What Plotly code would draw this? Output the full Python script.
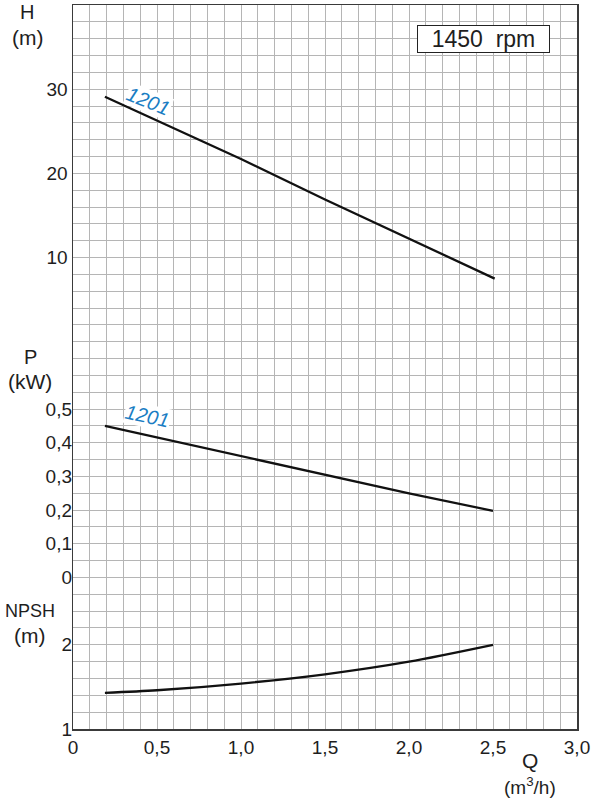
import plotly.graph_objects as go

# ---- data ----
q_h = [0.19, 0.5, 1.0, 1.5, 2.0, 2.51]
h_vals = [29.1, 26.3, 21.7, 16.9, 12.2, 7.5]

q_p = [0.19, 0.5, 1.0, 1.5, 2.0, 2.5]
p_vals = [0.45, 0.416, 0.361, 0.305, 0.250, 0.198]

q_n = [0.19, 0.5, 1.0, 1.5, 2.0, 2.5]
npsh_vals = [1.43, 1.46, 1.54, 1.65, 1.80, 2.0]

x_ticks = [0, 0.5, 1.0, 1.5, 2.0, 2.5, 3.0]
x_ticktext = ["0", "0,5", "1,0", "1,5", "2,0", "2,5", "3,0"]
h_ticks = [10, 20, 30]
p_ticks = [0, 0.1, 0.2, 0.3, 0.4, 0.5]
p_ticktext = ["0", "0,1", "0,2", "0,3", "0,4", "0,5"]
n_ticks = [1, 2]

curve_label = "1201"
speed_label = "1450  rpm"

# ---- layout geometry ----
W, H = 591, 800
ML, MR, MT, MB = 73, 14, 5, 71
PW, PH = W - ML - MR, H - MT - MB

FONT = "Liberation Sans, Arial, sans-serif"
GRID = "#b5b5b5"
FRAME = "#3a3a3a"
BLUE = "#1a7dc3"
TXT = "#1e1e1e"

def px2paper(px, py):
    return (px - ML) / PW, (H - MB - py) / PH

fig = go.Figure()
straight = dict(color="#111111", width=2.3)
curved = dict(color="#111111", width=2.3, shape="spline", smoothing=0.8)
fig.add_trace(go.Scatter(x=q_h, y=h_vals, mode="lines", line=straight, yaxis="y", showlegend=False, hoverinfo="skip"))
fig.add_trace(go.Scatter(x=q_p, y=p_vals, mode="lines", line=straight, yaxis="y2", showlegend=False, hoverinfo="skip"))
fig.add_trace(go.Scatter(x=q_n, y=npsh_vals, mode="lines", line=curved, yaxis="y3", showlegend=False, hoverinfo="skip"))

tickfont = dict(family=FONT, size=19, color=TXT)

fig.update_layout(
    width=W, height=H,
    margin=dict(l=ML, r=MR, t=MT, b=MB, pad=0, autoexpand=False),
    paper_bgcolor="white", plot_bgcolor="white",
    xaxis=dict(
        range=[0, 3.0], tickmode="array", tickvals=x_ticks, ticktext=x_ticktext,
        showgrid=True, gridcolor=GRID, gridwidth=1,
        minor=dict(tickmode="linear", tick0=0, dtick=0.1, showgrid=True, gridcolor=GRID, gridwidth=1),
        showline=True, linecolor=FRAME, linewidth=1.5, mirror=True,
        ticks="", zeroline=False, tickfont=dict(family=FONT, size=19, color=TXT),
        ticklabelstandoff=1, automargin=False,
    ),
    yaxis=dict(
        range=[-46, 40], tickmode="array", tickvals=h_ticks,
        showgrid=True, gridcolor=GRID, gridwidth=1,
        minor=dict(tickmode="linear", tick0=0, dtick=2, showgrid=True, gridcolor=GRID, gridwidth=1),
        showline=True, linecolor=FRAME, linewidth=1.5, mirror=True,
        ticks="", zeroline=False, tickfont=tickfont, ticklabelstandoff=0, automargin=False,
    ),
    yaxis2=dict(
        range=[-0.45, 1.7], overlaying="y", side="left", anchor="x",
        tickmode="array", tickvals=p_ticks, ticktext=p_ticktext,
        showgrid=False, zeroline=False, ticks="", tickfont=tickfont, ticklabelstandoff=0,
        automargin=False,
    ),
    yaxis3=dict(
        range=[1, 9.6], overlaying="y", side="left", anchor="x",
        tickmode="array", tickvals=n_ticks,
        showgrid=False, zeroline=False, ticks="", tickfont=tickfont, ticklabelstandoff=0,
        automargin=False,
    ),
)

ann = []
def text_at(px, py, txt, size=18, color=TXT, **kw):
    x, y = px2paper(px, py)
    d = dict(x=x, y=y, xref="paper", yref="paper", text=txt, showarrow=False,
             xanchor="center", yanchor="middle",
             font=dict(family=FONT, size=size, color=color))
    d.update(kw)
    ann.append(d)

text_at(27, 12, "H", 20)
text_at(27, 37, "(m)", 21)
text_at(30, 357, "P", 20)
text_at(30, 381, "(kW)", 21)
text_at(29.5, 611, "NPSH", 18)
text_at(29, 635, "(m)", 21)
text_at(530, 760, "Q", 21)
text_at(530, 786, "(m<sup>3</sup>/h)", 19)

text_at(148, 101, "<i>" + curve_label + "</i>", 20, BLUE, textangle=22,
        bgcolor="white", borderpad=0)
text_at(147, 416, "<i>" + curve_label + "</i>", 20, BLUE, textangle=12,
        bgcolor="white", borderpad=0)

text_at(483.5, 38.5, speed_label, 23, bgcolor="white", bordercolor="#222222",
        borderwidth=1, borderpad=0, width=131, height=26)

fig.update_layout(annotations=ann)
fig.write_html("out.html", config={"displayModeBar": False, "staticPlot": True})

# remove the default page margin so the figure sits at the window's top-left
with open("out.html", "r", encoding="utf-8") as f:
    html = f.read()
html = html.replace("<head>", "<head><style>html,body{margin:0;padding:0;overflow:hidden;}</style>", 1)
with open("out.html", "w", encoding="utf-8") as f:
    f.write(html)
